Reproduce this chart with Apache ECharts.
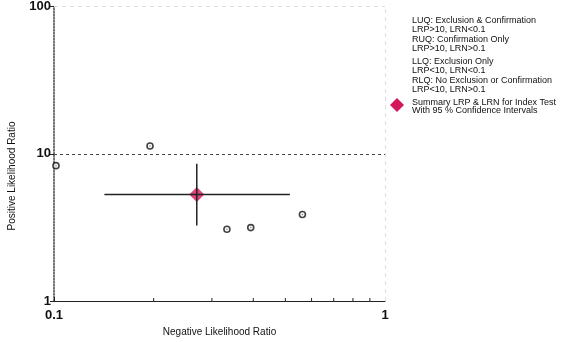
<!DOCTYPE html>
<html><head><meta charset="utf-8">
<script src="https://cdn.jsdelivr.net/npm/echarts@6/dist/echarts.min.js"></script>
<style>html,body{margin:0;padding:0;background:#fff}#c{width:563px;height:342px}</style>
</head><body><div id="c"></div>
<script>
// Study points: [negative LR, positive LR]
const studyLRN = [0.1014, 0.195, 0.333, 0.393, 0.563];
const studyLRP = [8.3, 11.3, 3.07, 3.15, 3.87];
// Summary estimate with 95% CI
const summaryLRN = 0.27, summaryLRP = 5.28;
const lrnCI = [0.142, 0.516];
const lrpCI = [3.26, 8.55];
const xMinorTicks = [0.2, 0.3, 0.4, 0.5, 0.6, 0.7, 0.8, 0.9];
const threshLRP = 10;
const xLabels = ['0.1', '1'];
const yLabels = ['1', '10', '100'];
const legendGroups = [
  ['LUQ: Exclusion & Confirmation', 'LRP>10, LRN<0.1'],
  ['RUQ: Confirmation Only', 'LRP>10, LRN>0.1'],
  ['LLQ: Exclusion Only', 'LRP<10, LRN<0.1'],
  ['RLQ: No Exclusion or Confirmation', 'LRP<10, LRN>0.1']
];
const summaryLegend = ['Summary LRP & LRN for Index Test', 'With 95 % Confidence Intervals'];

const FONT = '"Liberation Sans", Arial, Helvetica, sans-serif';
const chart = echarts.init(document.getElementById('c'), null, {renderer: 'canvas'});

const legendTops = [21, 40, 62, 81];
const graphics = [];
legendGroups.forEach((g, gi) => {
  g.forEach((t, li) => {
    graphics.push({type: 'text', left: 412, top: legendTops[gi] + li * 9 - 5,
      style: {text: t, font: '9px ' + FONT, fill: '#111'}});
  });
});
summaryLegend.forEach((t, li) => {
  graphics.push({type: 'text', left: 412, top: 103 + li * 8 - 5,
    style: {text: t, font: '9px ' + FONT, fill: '#111'}});
});
graphics.push({type: 'polygon', shape: {points: [[397, 98], [404, 105], [397, 112], [390, 105]]},
  style: {fill: '#d4175b'}});
graphics.push({type: 'text', x: 12, y: 176, rotation: Math.PI / 2,
  style: {text: 'Positive Likelihood Ratio', font: '10px ' + FONT, fill: '#111',
    align: 'center', verticalAlign: 'middle'}});

const option = {
  animation: false,
  backgroundColor: '#fff',
  grid: {left: 54, right: 178, top: 6, bottom: 40},
  graphic: graphics,
  xAxis: {
    type: 'log', logBase: 10, min: 0.1, max: 1,
    name: 'Negative Likelihood Ratio', nameLocation: 'middle', nameGap: 26,
    nameTextStyle: {fontFamily: FONT, fontSize: 10, color: '#111'},
    axisLine: {lineStyle: {color: '#222', width: 1}},
    axisTick: {inside: true, length: 4, lineStyle: {color: '#222'}},
    axisLabel: {fontFamily: FONT, fontSize: 13, fontWeight: 'bold', color: '#111', margin: 8,
      formatter: v => { const s = String(+v.toPrecision(3)); return xLabels.includes(s) ? s : ''; }},
    splitLine: {show: false}
  },
  yAxis: {
    type: 'log', logBase: 10, min: 1, max: 100,
    axisLine: {show: true, lineStyle: {color: '#444', width: 1.5, type: [1.5, 1.5]}},
    axisTick: {show: true, length: 4, lineStyle: {color: '#222'}},
    axisLabel: {fontFamily: FONT, fontSize: 13, fontWeight: 'bold', color: '#111', margin: 3,
      formatter: v => { const s = String(+v.toPrecision(3)); return yLabels.includes(s) ? s : ''; }},
    splitLine: {show: false}
  },
  series: [
    {
      type: 'custom', z: 3, silent: true,
      data: xMinorTicks.map(x => [x, 1]),
      renderItem: (params, api) => {
        const p = api.coord([api.value(0), api.value(1)]);
        return {type: 'line', shape: {x1: p[0], y1: p[1], x2: p[0], y2: p[1] - 3},
          style: {stroke: '#222', lineWidth: 1}};
      }
    },
    {
      type: 'line', silent: true, symbol: 'none', data: [],
      markLine: {
        silent: true, symbol: 'none', label: {show: false},
        data: [
          {yAxis: threshLRP, lineStyle: {color: '#444', type: [3, 3], width: 1}},
          {yAxis: 100, lineStyle: {color: '#ddd', type: [4, 4], width: 1}},
          {xAxis: 1, lineStyle: {color: '#ddd', type: [4, 4], width: 1}}
        ]
      }
    },
    {
      type: 'scatter', z: 4, symbol: 'diamond', symbolSize: [15, 15],
      itemStyle: {color: '#d4175b'},
      data: [[summaryLRN, summaryLRP]]
    },
    {
      type: 'line', z: 5, symbol: 'none', silent: true,
      lineStyle: {color: '#222', width: 1.5},
      data: [[lrnCI[0], summaryLRP], [lrnCI[1], summaryLRP]]
    },
    {
      type: 'line', z: 5, symbol: 'none', silent: true,
      lineStyle: {color: '#222', width: 1.5},
      data: [[summaryLRN, lrpCI[0]], [summaryLRN, lrpCI[1]]]
    },
    {
      type: 'scatter', z: 6, symbol: 'circle', symbolSize: 6,
      itemStyle: {color: '#fff', borderColor: '#111', borderWidth: 1.6},
      data: studyLRN.map((x, i) => [x, studyLRP[i]])
    },
    {
      type: 'scatter', z: 7, symbol: 'circle', symbolSize: 1.5, silent: true,
      itemStyle: {color: '#555'},
      data: studyLRN.map((x, i) => [x, studyLRP[i]])
    }
  ]
};
chart.setOption(option);
</script></body></html>
